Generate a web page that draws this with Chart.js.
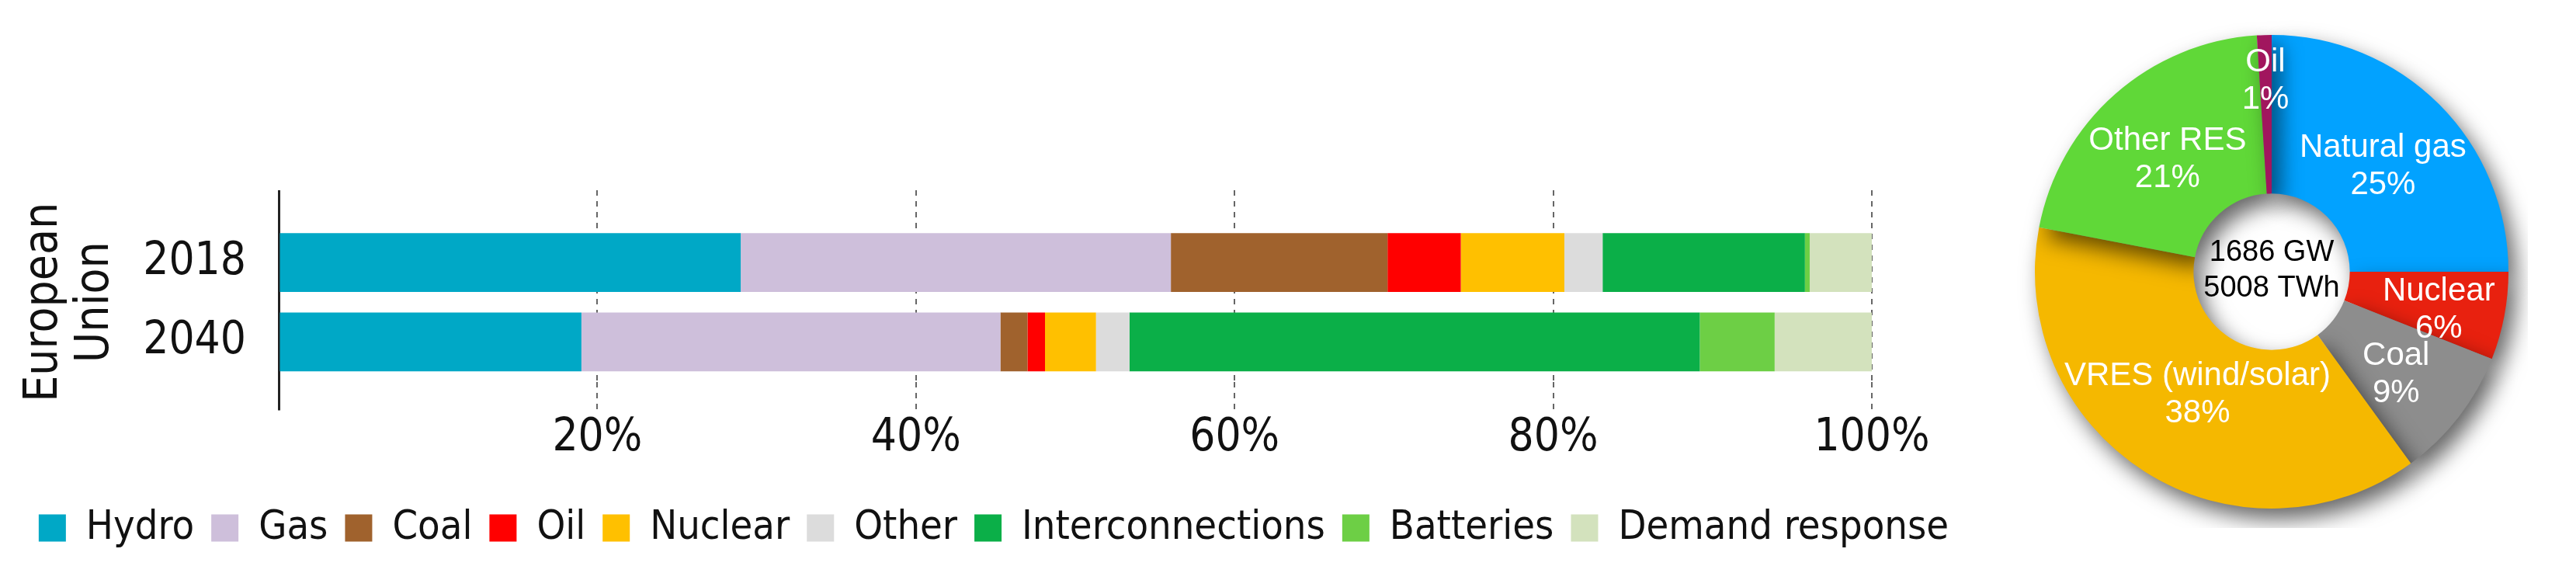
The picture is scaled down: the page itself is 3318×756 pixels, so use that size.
<!DOCTYPE html>
<html>
<head>
<meta charset="utf-8">
<title>EU flexibility sources and generation mix</title>
<script src="https://cdn.jsdelivr.net/npm/chart.js"></script>
<style>
body {
  margin: 0;
  background: #ffffff;
  width: 3318px;
  height: 756px;
  overflow: hidden;
  position: relative;
}
#barBox { position: absolute; left: 0; top: 0; width: 2560px; height: 756px; }
#pieBox { position: absolute; left: 2596px; top: 20px; width: 660px; height: 660px; }
</style>
</head>
<body>

<div id="barBox"><canvas id="barChart"></canvas></div>
<div id="pieBox"><canvas id="pieChart"></canvas></div>

<script>
// bar chart: share of flexibility by source (%)
const years = ['2018', '2040'];
const hydro = [29.0, 19.0];
const gas = [27.0, 26.3];
const coal = [13.6, 1.7];
const oil = [4.6, 1.1];
const nuclear = [6.5, 3.2];
const other = [2.4, 2.1];
const interconnections = [12.7, 35.8];
const batteries = [0.3, 4.7];
const demandResponse = [3.9, 6.1];
const regionTitle = ['European', 'Union'];

// doughnut: generation mix
const mixLabels = ['Natural gas', 'Nuclear', 'Coal', 'VRES (wind/solar)', 'Other RES', 'Oil'];
const mixShares = [25, 6, 9, 38, 21, 1];
const centreLines = ['1686 GW', '5008 TWh'];

const narrow = "'Liberation Sans Narrow', 'DejaVu Sans Condensed', 'Liberation Sans', sans-serif";
const isZero = c => c.tick && c.tick.value === 0;

const series = [
  { label: 'Hydro', data: hydro, color: '#00A8C6' },
  { label: 'Gas', data: gas, color: '#CEBFDB' },
  { label: 'Coal', data: coal, color: '#A0622D' },
  { label: 'Oil', data: oil, color: '#FF0000' },
  { label: 'Nuclear', data: nuclear, color: '#FFC000' },
  { label: 'Other', data: other, color: '#DCDCDC' },
  { label: 'Interconnections', data: interconnections, color: '#0BAF48' },
  { label: 'Batteries', data: batteries, color: '#6DCF45' },
  { label: 'Demand response', data: demandResponse, color: '#D3E2BD' }
];

const gridStyle = {
  color: c => isZero(c) ? '#222' : '#666',
  lineWidth: c => isZero(c) ? 3 : 2,
  tickColor: c => isZero(c) ? '#222' : '#666',
  tickWidth: c => isZero(c) ? 3 : 2,
  tickBorderDash: c => isZero(c) ? [] : [7, 7]
};

new Chart(document.getElementById('barChart'), {
  type: 'bar',
  data: {
    labels: years,
    datasets: series.map(s => ({
      label: s.label,
      data: s.data,
      backgroundColor: s.color,
      borderWidth: 0,
      barPercentage: 0.74,
      categoryPercentage: 1
    }))
  },
  options: {
    indexAxis: 'y',
    responsive: true,
    maintainAspectRatio: false,
    animation: false,
    layout: { padding: { top: 245, bottom: 40, left: 0, right: 0 } },
    plugins: {
      legend: {
        position: 'bottom',
        labels: {
          boxWidth: 35,
          boxHeight: 35,
          padding: 22,
          color: '#111',
          font: { family: narrow, size: 52 }
        }
      },
      tooltip: { enabled: false }
    },
    scales: {
      x: {
        type: 'linear',
        stacked: true,
        min: 0,
        max: 100,
        position: 'bottom',
        ticks: {
          stepSize: 20,
          padding: 2,
          maxRotation: 0,
          color: '#111',
          font: { family: narrow, size: 58 },
          callback: v => v === 0 ? '' : v + '%'
        },
        grid: Object.assign({ drawOnChartArea: true, tickLength: 37 }, gridStyle),
        border: { display: false, dash: c => isZero(c) ? [] : [7, 7] },
        afterFit: s => { s.height = 140.5; }
      },
      xTop: {
        type: 'linear',
        min: 0,
        max: 100,
        position: 'top',
        ticks: { display: false, stepSize: 20 },
        grid: Object.assign({ drawOnChartArea: false, tickLength: 42 }, gridStyle),
        border: { display: false },
        afterFit: s => { s.height = 42; }
      },
      y: {
        stacked: true,
        grid: { display: false, drawTicks: false },
        border: { display: false },
        ticks: {
          padding: 42,
          color: '#111',
          font: { family: narrow, size: 58 }
        },
        title: {
          display: true,
          text: regionTitle,
          color: '#111',
          font: { family: narrow, size: 60, lineHeight: 1.1 },
          padding: { top: 24, bottom: 0 }
        },
        afterFit: s => { s.width = 359; }
      },
      yRight: {
        type: 'category',
        labels: years,
        position: 'right',
        grid: { display: false, drawTicks: false },
        border: { display: false },
        ticks: { display: false },
        afterFit: s => { s.width = 149; }
      }
    }
  }
});

// doughnut helpers
const mixColours = ['#02A2FF', '#E8210F', '#8D8D8D', '#F5B800', '#60D838', '#A1165E'];

const shadowPlugin = {
  id: 'arcShadow',
  beforeDatasetsDraw(chart) {
    const ctx = chart.ctx;
    ctx.save();
    ctx.shadowColor = 'rgba(0,0,0,0.6)';
    ctx.shadowBlur = 28;
    ctx.shadowOffsetX = 10;
    ctx.shadowOffsetY = 14;
  },
  afterDatasetsDraw(chart) {
    chart.ctx.restore();
  }
};

const sliceLabels = {
  id: 'sliceLabels',
  afterDraw(chart, args, opts) {
    const ctx = chart.ctx;
    const meta = chart.getDatasetMeta(0);
    ctx.save();
    ctx.fillStyle = '#ffffff';
    ctx.textAlign = 'center';
    ctx.textBaseline = 'middle';
    ctx.font = '42px "Liberation Sans", Arial, sans-serif';
    meta.data.forEach((arc, i) => {
      const p = arc.getProps(['x', 'y', 'startAngle', 'endAngle', 'innerRadius', 'outerRadius'], true);
      const mid = (p.startAngle + p.endAngle) / 2;
      const f = opts.radial[chart.data.labels[i]] ?? 0.5;
      const r = p.innerRadius + (p.outerRadius - p.innerRadius) * f;
      const cx = p.x + Math.cos(mid) * r;
      const cy = p.y + Math.sin(mid) * r;
      ctx.fillText(chart.data.labels[i], cx, cy - 24 + opts.drop);
      ctx.fillText(chart.data.datasets[0].data[i] + '%', cx, cy + 24 + opts.drop);
    });
    // centre text
    const a = meta.data[0];
    ctx.fillStyle = '#000000';
    ctx.font = '38px "Liberation Sans", Arial, sans-serif';
    ctx.fillText(centreLines[0], a.x, a.y - 24);
    ctx.fillText(centreLines[1], a.x, a.y + 22);
    ctx.restore();
  }
};

new Chart(document.getElementById('pieChart'), {
  type: 'doughnut',
  data: {
    labels: mixLabels,
    datasets: [{
      data: mixShares,
      backgroundColor: mixColours,
      borderWidth: 0
    }]
  },
  options: {
    responsive: true,
    maintainAspectRatio: false,
    animation: false,
    cutout: '33%',
    layout: { padding: 25 },
    plugins: {
      legend: { display: false },
      tooltip: { enabled: false },
      sliceLabels: {
        drop: 8,
        radial: { 'Nuclear': 0.58, 'VRES (wind/solar)': 0.38, 'Oil': 0.75 }
      }
    }
  },
  plugins: [shadowPlugin, sliceLabels]
});
</script>

</body>
</html>
